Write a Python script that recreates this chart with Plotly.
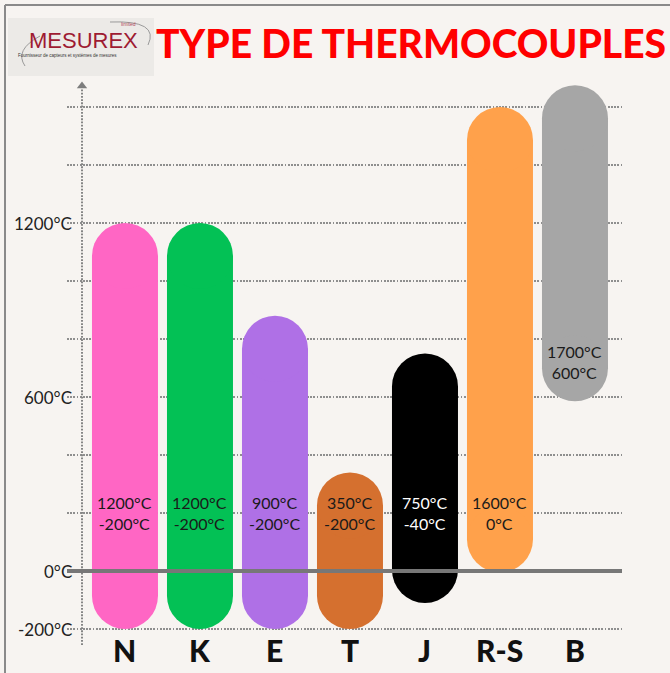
import plotly.graph_objects as go

# ---- data ----
types = ['N', 'K', 'E', 'T', 'J', 'R-S', 'B']
max_temp = [1200, 1200, 900, 350, 750, 1600, 1700]      # label text (upper)
min_temp = [-200, -200, -200, -200, -40, 0, 600]        # label text (lower)
bar_top = [1200, 1200, 880, 340, 750, 1600, 1675]       # drawn extent (top)
bar_bottom = [-200, -200, -200, -200, -110, -5, 585]    # drawn extent (bottom)
ytick_vals = [-200, 0, 600, 1200]
ytick_text = ['-200°C', '0°C', '600°C', '1200°C']

colors = ['#FF66C4', '#03C155', '#AF70E6', '#D5702F', '#000000', '#FFA14B', '#A6A6A6']
text_colors = ['#1a1a1a', '#1a1a1a', '#1a1a1a', '#1a1a1a', '#FFFFFF', '#1a1a1a', '#1a1a1a']

W, H = 670, 673
ML, MR, MT, MB = 67, 48, 61, 21
PW, PH = W - ML - MR, H - MT - MB
BG = '#F7F4F1'
X_RANGE = [-0.773, 6.627]
Y_RANGE = [-279.3, 1758.6]
BAR_FRAC = 0.88
DOT = '1.8px,1.4px'


def px(x):
    return (x - ML) / PW


def py(y):
    return (H - MB - y) / PH


# rounded-cap geometry (radius = half bar width) converted to data units
bar_w_px = BAR_FRAC * PW / (X_RANGE[1] - X_RANGE[0])
r_units = (bar_w_px / 2) * (Y_RANGE[1] - Y_RANGE[0]) / PH

xs = list(range(len(types)))
body_base = [b + r_units for b in bar_bottom]
body_len = [(t - r_units) - bb for t, bb in zip(bar_top, body_base)]
cap_top = [t - r_units for t in bar_top]
cap_bot = [b + r_units for b in bar_bottom]

fig = go.Figure()
fig.add_trace(go.Bar(x=xs, y=body_len, base=body_base, width=BAR_FRAC,
                     marker=dict(color=colors, line=dict(width=0)),
                     hoverinfo='skip', showlegend=False))
fig.add_trace(go.Scatter(x=xs + xs, y=cap_top + cap_bot, mode='markers',
                         marker=dict(symbol='circle', size=bar_w_px, color=colors + colors,
                                     line=dict(width=0), opacity=1),
                         hoverinfo='skip', showlegend=False))

axis_x = -0.573
# arrow head on vertical axis
fig.add_trace(go.Scatter(x=[axis_x], y=[1672], mode='markers',
                         marker=dict(symbol='triangle-up', size=9, color='#7d7d7d'),
                         cliponaxis=False, hoverinfo='skip', showlegend=False))

shapes = [
    # vertical dotted axis
    dict(type='line', xref='x', yref='y', x0=axis_x, x1=axis_x, y0=-255, y1=1660,
         line=dict(color='#858585', width=2, dash=DOT), layer='above'),
    # zero line
    dict(type='line', xref='paper', yref='y', x0=0, x1=1, y0=0, y1=0,
         line=dict(color='#777777', width=4), layer='above'),
    # frame
    dict(type='line', xref='paper', yref='paper', x0=px(5), x1=px(5), y0=py(5), y1=py(680),
         line=dict(color='#8a8a8a', width=2), layer='above'),
    dict(type='line', xref='paper', yref='paper', x0=px(5), x1=px(680), y0=py(5), y1=py(5),
         line=dict(color='#8a8a8a', width=2), layer='above'),
    # logo box
    dict(type='rect', xref='paper', yref='paper', x0=px(8), x1=px(154), y0=py(76), y1=py(18),
         fillcolor='#ECEAE7', line=dict(width=0), layer='above'),
    dict(type='path', xref='paper', yref='paper',
         path=f'M {px(25)},{py(66)} Q {px(14)},{py(50)} {px(40)},{py(36)}',
         line=dict(color='#9a9a9a', width=1), layer='above'),
    dict(type='path', xref='paper', yref='paper',
         path=f'M {px(110)},{py(22)} Q {px(160)},{py(20)} {px(148)},{py(45)}',
         line=dict(color='#9a9a9a', width=1), layer='above'),
]

annotations = []
for v, t in zip(ytick_vals, ytick_text):
    annotations.append(dict(x=px(74), xref='paper', y=v, yref='y', text=t, showarrow=False,
                            xanchor='right', yanchor='middle',
                            font=dict(family='Lato', size=17, color='#222222')))
for i, name in enumerate(types):
    annotations.append(dict(x=i, xref='x', y=-273, yref='y', text=name, showarrow=False,
                            xanchor='center', yanchor='middle',
                            font=dict(family='Lato', size=30, color='#111111', weight=900)))
    ly = max(200, bar_bottom[i] + 135)
    annotations.append(dict(x=i, xref='x', y=ly, yref='y',
                            text=f'{max_temp[i]}°C<br>{min_temp[i]}°C', showarrow=False,
                            xanchor='center', yanchor='middle',
                            font=dict(family='Lato', size=16, color=text_colors[i])))

annotations.append(dict(x=px(411), xref='paper', y=py(43), yref='paper',
                        text='TYPE DE THERMOCOUPLES', showarrow=False,
                        xanchor='center', yanchor='middle',
                        font=dict(family='Lato', size=39, color='#FF0000', weight=900)))
annotations.append(dict(x=px(83), xref='paper', y=py(41), yref='paper', text='MESUREX',
                        showarrow=False, xanchor='center', yanchor='middle',
                        font=dict(family='Liberation Sans', size=22, color='#9E1B32')))
annotations.append(dict(x=px(67), xref='paper', y=py(56), yref='paper',
                        text='Fournisseur de capteurs et systèmes de mesures',
                        showarrow=False, xanchor='center', yanchor='middle',
                        font=dict(family='Liberation Sans', size=4.5, color='#333333')))
annotations.append(dict(x=px(128), xref='paper', y=py(24), yref='paper', text='limited',
                        showarrow=False, xanchor='center', yanchor='middle',
                        font=dict(family='Liberation Sans', size=5, color='#B0485A')))

fig.update_layout(
    width=W, height=H, autosize=False,
    margin=dict(l=ML, r=MR, t=MT, b=MB, pad=0),
    paper_bgcolor=BG, plot_bgcolor=BG,
    barmode='overlay',
    xaxis=dict(range=X_RANGE, showgrid=False, zeroline=False,
               showticklabels=False, showline=False, fixedrange=True),
    yaxis=dict(range=Y_RANGE, tick0=-200, dtick=200, showgrid=True,
               gridcolor='#8E8E8E', gridwidth=2, griddash=DOT,
               zeroline=False, showticklabels=False, showline=False, fixedrange=True),
    shapes=shapes,
    annotations=annotations,
    showlegend=False,
)

fig.write_html('out.html', config={'displayModeBar': False},
               post_script="document.body.style.margin='0';document.body.style.padding='0';"
                           "document.documentElement.style.overflow='hidden';")
